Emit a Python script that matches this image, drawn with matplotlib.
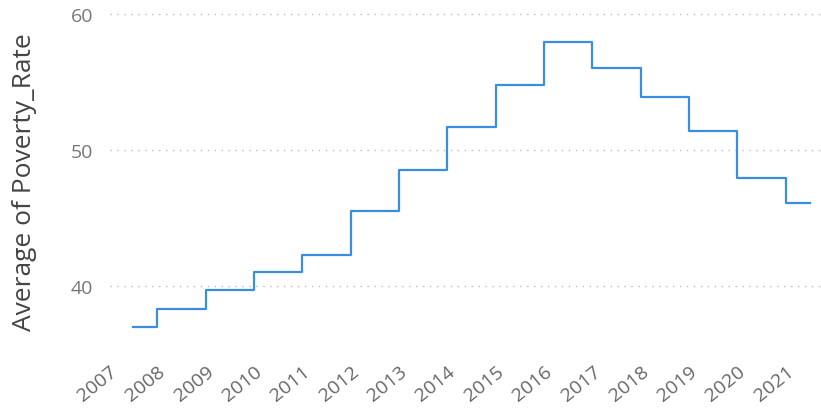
import matplotlib.pyplot as plt
from matplotlib.transforms import ScaledTranslation

# 数据
years = ['2007', '2008', '2009', '2010', '2011', '2012', '2013', '2014',
         '2015', '2016', '2017', '2018', '2019', '2020', '2021']
poverty_rate = [37.0, 38.3, 39.7, 41.0, 42.3, 45.5, 48.5, 51.7,
                54.8, 57.9, 56.0, 53.9, 51.4, 47.9, 46.1]
y_ticks = [40, 50, 60]

plt.rcParams['font.family'] = ['Open Sans', 'DejaVu Sans']

fig = plt.figure(figsize=(8.21, 4.14), dpi=100)
ax = fig.add_axes([110 / 821, 64 / 414, 711 / 821, 342 / 414])

x = list(range(len(years)))
ax.step(x, poverty_rate, where='mid', color='#3a8ee0', linewidth=1.6)

ax.set_xlim(-0.476, len(years) - 1 + 0.23)
ax.set_ylim(35.37, 60.5)
ax.set_yticks(y_ticks)
ax.set_xticks(x)
ax.set_xticklabels(years, rotation=39, ha='right', rotation_mode='anchor',
                   fontsize=14, color='#666666')
ax.tick_params(axis='x', length=0, pad=9.5)
ax.tick_params(axis='y', length=0, pad=12, labelsize=14, labelcolor='#777777')

# 标签左移
shift = ScaledTranslation(-24 / 100, 0, fig.dpi_scale_trans)
for lbl in ax.get_xticklabels():
    lbl.set_transform(lbl.get_transform() + shift)

ax.grid(axis='y', linestyle=(0, (1, 4)), color='#bbbbbb', linewidth=1)
ax.set_axisbelow(True)
for s in ax.spines.values():
    s.set_visible(False)

ax.set_ylabel('Average of Poverty_Rate', fontsize=19, color='#444444')
ax.yaxis.set_label_coords(-0.103, 0.49)

fig.savefig('out.png', dpi=100)
